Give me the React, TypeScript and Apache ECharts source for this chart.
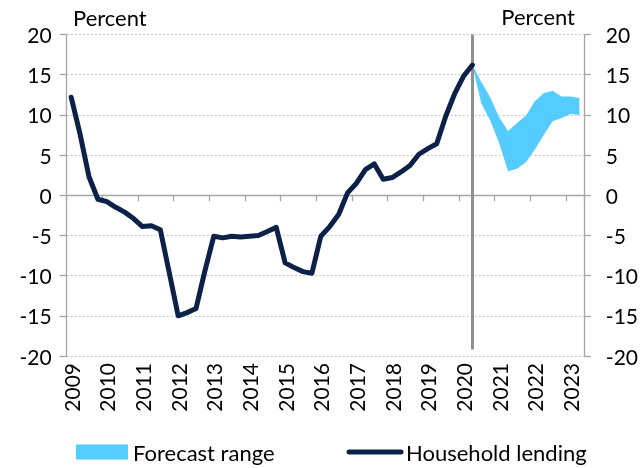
import React, { useEffect, useRef } from 'react';
import * as echarts from 'echarts';

const years = ['2009', '2010', '2011', '2012', '2013', '2014', '2015', '2016', '2017', '2018', '2019', '2020', '2021', '2022', '2023'];
const quarters = ['Q1', 'Q2', 'Q3', 'Q4'];
const categories = years.flatMap((y) => quarters.map((q) => y + q)).slice(0, 58);

// Household lending, quarterly, 2009Q1 - 2020Q2
const householdLending = [
  12.2, 7.6, 2.3, -0.5, -0.8, -1.5, -2.1, -2.9,
  -3.9, -3.8, -4.3, -9.6, -15.0, -14.6, -14.1, -9.4,
  -5.1, -5.3, -5.1, -5.2, -5.1, -5.0, -4.5, -4.0,
  -8.4, -9.0, -9.5, -9.7, -5.1, -3.9, -2.4, 0.3,
  1.5, 3.2, 3.9, 2.0, 2.2, 2.9, 3.7, 5.1,
  5.8, 6.4, 9.8, 12.6, 14.8, 16.2,
];

// Forecast range, 2020Q2 - 2023Q2
const forecastStart = '2020Q2';
const forecastLow = [16.2, 11.4, 9.3, 6.5, 3.0, 3.3, 4.1, 5.7, 7.5, 9.2, 9.6, 10.1, 10.0];
const forecastHigh = [16.2, 14.1, 12.2, 9.7, 8.0, 9.0, 9.9, 11.7, 12.7, 13.0, 12.3, 12.3, 12.1];

const yMin = -20;
const yMax = 20;
const yInterval = 5;

export default function App() {
  const ref = useRef<HTMLDivElement>(null);
  useEffect(() => {
    const chart = echarts.init(ref.current!, null, { renderer: 'svg' });
    const offset = categories.indexOf(forecastStart);
    const pad: (number | null)[] = categories.slice(0, offset).map(() => null);
    const low = pad.concat(forecastLow);
    const spread = pad.concat(forecastHigh.map((h, i) => +(h - forecastLow[i]).toFixed(2)));
    const font = 'Lato, sans-serif';
    const axisGray = '#A6A6A6';
    const navy = '#0B2148';
    const fs = 21;
    const fsText = 22;
    const axisLine = { show: true, lineStyle: { color: axisGray, width: 1.3 } };
    chart.setOption({
      animation: false,
      textStyle: { fontFamily: font },
      grid: { left: 66.7, right: 55.3, top: 34.5, bottom: 112, containLabel: false },
      legend: {
        left: 71,
        top: 436,
        itemWidth: 52,
        itemHeight: 15,
        itemGap: 72,
        textStyle: { fontSize: fsText, color: '#000', fontFamily: font },
        data: [
          { name: 'Forecast range', icon: 'rect' },
          {
            name: 'Household lending',
            itemStyle: { opacity: 0 },
            lineStyle: { width: 5, color: navy, cap: 'round' },
          },
        ],
      },
      graphic: [
        { type: 'text', left: 73, top: 6, style: { text: 'Percent', fontSize: fsText, fontFamily: font, fill: '#000' } },
        { type: 'text', right: 66, top: 5, style: { text: 'Percent', fontSize: fsText, fontFamily: font, fill: '#000' } },
      ],
      xAxis: [
        {
          type: 'category',
          data: categories,
          boundaryGap: true,
          position: 'bottom',
          axisLine: { show: false, onZero: false },
          axisTick: { show: false },
          splitLine: { show: false },
          axisLabel: {
            interval: 3,
            rotate: 90,
            margin: 7,
            fontSize: fs,
            color: '#000',
            fontFamily: font,
            formatter: (v: string) => v.slice(0, 4),
          },
        },
        {
          type: 'category',
          data: categories,
          boundaryGap: true,
          position: 'bottom',
          axisLine: { show: true, onZero: true, lineStyle: { color: axisGray, width: 1.3 } },
          axisTick: { show: true, interval: 3, length: 6, lineStyle: { color: axisGray, width: 1.3 } },
          axisLabel: { show: false },
          splitLine: { show: false },
        },
      ],
      yAxis: [
        {
          type: 'value',
          min: yMin,
          max: yMax,
          interval: yInterval,
          position: 'left',
          axisLine,
          axisTick: { show: true, length: 7, lineStyle: { color: axisGray, width: 1.3 } },
          axisLabel: { margin: 15, fontSize: fs, color: '#000', fontFamily: font },
          splitLine: { show: true, lineStyle: { color: '#C4C4C4', width: 1, type: [2, 2] } },
        },
        {
          type: 'value',
          min: yMin,
          max: yMax,
          interval: yInterval,
          position: 'right',
          axisLine,
          axisTick: { show: true, length: 7, lineStyle: { color: axisGray, width: 1.3 } },
          axisLabel: { margin: 22, fontSize: fs, color: '#000', fontFamily: font, align: 'left' },
          splitLine: { show: false },
        },
      ],
      series: [
        {
          name: 'low',
          type: 'line',
          stack: 'band',
          data: low,
          symbol: 'none',
          lineStyle: { opacity: 0 },
          silent: true,
          z: 2,
        },
        {
          name: 'Forecast range',
          type: 'line',
          stack: 'band',
          data: spread,
          symbol: 'none',
          color: '#55CCFF',
          itemStyle: { color: '#55CCFF' },
          lineStyle: { opacity: 0, width: 0 },
          areaStyle: { color: '#55CCFF', opacity: 1 },
          silent: true,
          z: 2,
        },
        {
          name: 'Household lending',
          type: 'line',
          data: householdLending,
          symbol: 'none',
          color: navy,
          lineStyle: { color: navy, width: 5, cap: 'round', join: 'round' },
          z: 4,
          markLine: {
            silent: true,
            symbol: ['none', 'none'],
            label: { show: false },
            lineStyle: { color: '#909090', width: 3, type: 'solid' },
            z: 3,
            data: [[{ coord: [forecastStart, yMax] }, { coord: [forecastStart, -19.2] }]],
          },
        },
      ],
    });
    return () => chart.dispose();
  }, []);
  return <div ref={ref} style={{ position: 'fixed', left: 0, top: 0, width: 641, height: 468 }} />;
}
